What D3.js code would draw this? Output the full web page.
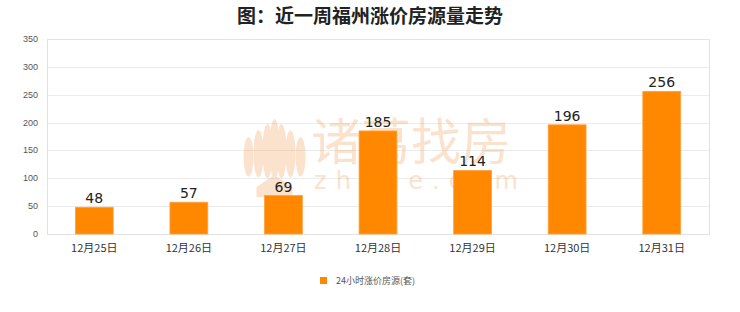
<!DOCTYPE html>
<html>
<head>
<meta charset="utf-8">
<script src="https://cdn.jsdelivr.net/npm/d3@7"></script>
<style>
  body { margin: 0; background: #fff; }
  svg { display: block; }
</style>
</head>
<body>
<div id="chart"></div>
<script>
var days = ["12月25日", "12月26日", "12月27日", "12月28日", "12月29日", "12月30日", "12月31日"];
var counts = [48, 57, 69, 185, 114, 196, 256];
var yTicks = [0, 50, 100, 150, 200, 250, 300, 350];
var seriesName = "24小时涨价房源(套)";
var title = "图：近一周福州涨价房源量走势";

var data = days.map((d, i) => ({ day: d, count: counts[i] }));

// dimensions of the plot area
var margin = { top: 39, right: 31, bottom: 78, left: 47 },
    width = 740 - margin.left - margin.right,
    height = 312 - margin.top - margin.bottom;

var svg = d3.select("#chart").append("svg")
    .attr("width", 740)
    .attr("height", 312);

var g = svg.append("g")
    .attr("transform", "translate(" + margin.left + "," + margin.top + ")");

var x = d3.scaleBand()
    .domain(days)
    .range([0, width])
    .paddingInner(0.6)
    .paddingOuter(0.3);

var y = d3.scaleLinear()
    .domain([0, 350])
    .range([height, 0]);

// grid lines
g.selectAll(".grid")
    .data(yTicks)
    .enter().append("line")
    .attr("x1", 0)
    .attr("x2", width)
    .attr("y1", d => Math.round(y(d)) + 0.5)
    .attr("y2", d => Math.round(y(d)) + 0.5)
    .attr("stroke", "#ebebeb");

// frame
g.append("rect")
    .attr("x", 0.5)
    .attr("y", 0.5)
    .attr("width", width)
    .attr("height", height)
    .attr("fill", "none")
    .attr("stroke", "#e2e2e2");

// watermark
var wm = g.append("g").attr("opacity", 0.33);
var logo = wm.append("g").attr("transform", "translate(" + (x(days[2]) + 10) + ",118)");
[-26, -16, -7, 0, 7, 16, 26].forEach((dx, i) => {
    logo.append("ellipse")
        .attr("cx", dx)
        .attr("cy", -8 + Math.abs(dx) * 0.3)
        .attr("rx", 5)
        .attr("ry", 30 - Math.abs(dx) * 0.4)
        .attr("fill", "#f0a868");
});
logo.append("path")
    .attr("d", "M-18,30 L0,18 L18,30 L18,40 L-18,40 Z")
    .attr("fill", "#f0a868");
wm.append("text")
    .attr("x", x(days[3]) - 48)
    .attr("y", 121)
    .attr("font-family", "'Noto Sans CJK SC', sans-serif")
    .attr("font-size", 50)
    .attr("fill", "#f0a868")
    .text("诸葛找房");
wm.append("text")
    .attr("x", x(days[3]) - 45)
    .attr("y", 150)
    .attr("font-family", "'DejaVu Sans', sans-serif")
    .attr("font-size", 24)
    .attr("letter-spacing", 9)
    .attr("fill", "#f0a868")
    .text("zhuge.com");

// bars
g.selectAll(".bar")
    .data(data)
    .enter().append("rect")
    .attr("class", "bar")
    .attr("x", d => x(d.day))
    .attr("y", d => y(d.count))
    .attr("width", x.bandwidth())
    .attr("height", d => height - y(d.count))
    .attr("fill", "#ff8800")
    .attr("stroke", "#ffa040")
    .attr("stroke-width", 0.8);

// value labels
g.selectAll(".name")
    .data(data)
    .enter().append("text")
    .attr("class", "name")
    .attr("x", d => x(d.day) + x.bandwidth() / 2)
    .attr("y", d => y(d.count) - 4)
    .attr("text-anchor", "middle")
    .attr("font-family", "'DejaVu Sans', sans-serif")
    .attr("font-size", 14)
    .attr("fill", "#222")
    .text(d => d.count);

// y axis labels
g.selectAll(".ytick")
    .data(yTicks)
    .enter().append("text")
    .attr("x", -9)
    .attr("y", d => y(d) + 3)
    .attr("text-anchor", "end")
    .attr("font-family", "'Liberation Sans', sans-serif")
    .attr("font-size", 9)
    .attr("fill", "#555")
    .text(d => d);

// x axis labels
g.selectAll(".xtick")
    .data(days)
    .enter().append("text")
    .attr("x", d => x(d) + x.bandwidth() / 2)
    .attr("y", height + 18)
    .attr("text-anchor", "middle")
    .attr("font-family", "'Noto Sans CJK SC', serif")
    .attr("font-size", 11)
    .attr("fill", "#333")
    .text(d => d);

// title
svg.append("text")
    .attr("x", 370)
    .attr("y", 23)
    .attr("text-anchor", "middle")
    .attr("font-family", "'Noto Sans CJK SC', sans-serif")
    .attr("font-size", 19)
    .attr("font-weight", "bold")
    .attr("fill", "#222")
    .text(title);

// legend
var legend = svg.append("g").attr("transform", "translate(320,277)");
legend.append("rect")
    .attr("width", 7)
    .attr("height", 7)
    .attr("fill", "#ff8800");
legend.append("text")
    .attr("x", 16)
    .attr("y", 7)
    .attr("font-family", "'Noto Sans CJK SC', sans-serif")
    .attr("font-size", 9)
    .attr("fill", "#555")
    .text(seriesName);
</script>
</body>
</html>
